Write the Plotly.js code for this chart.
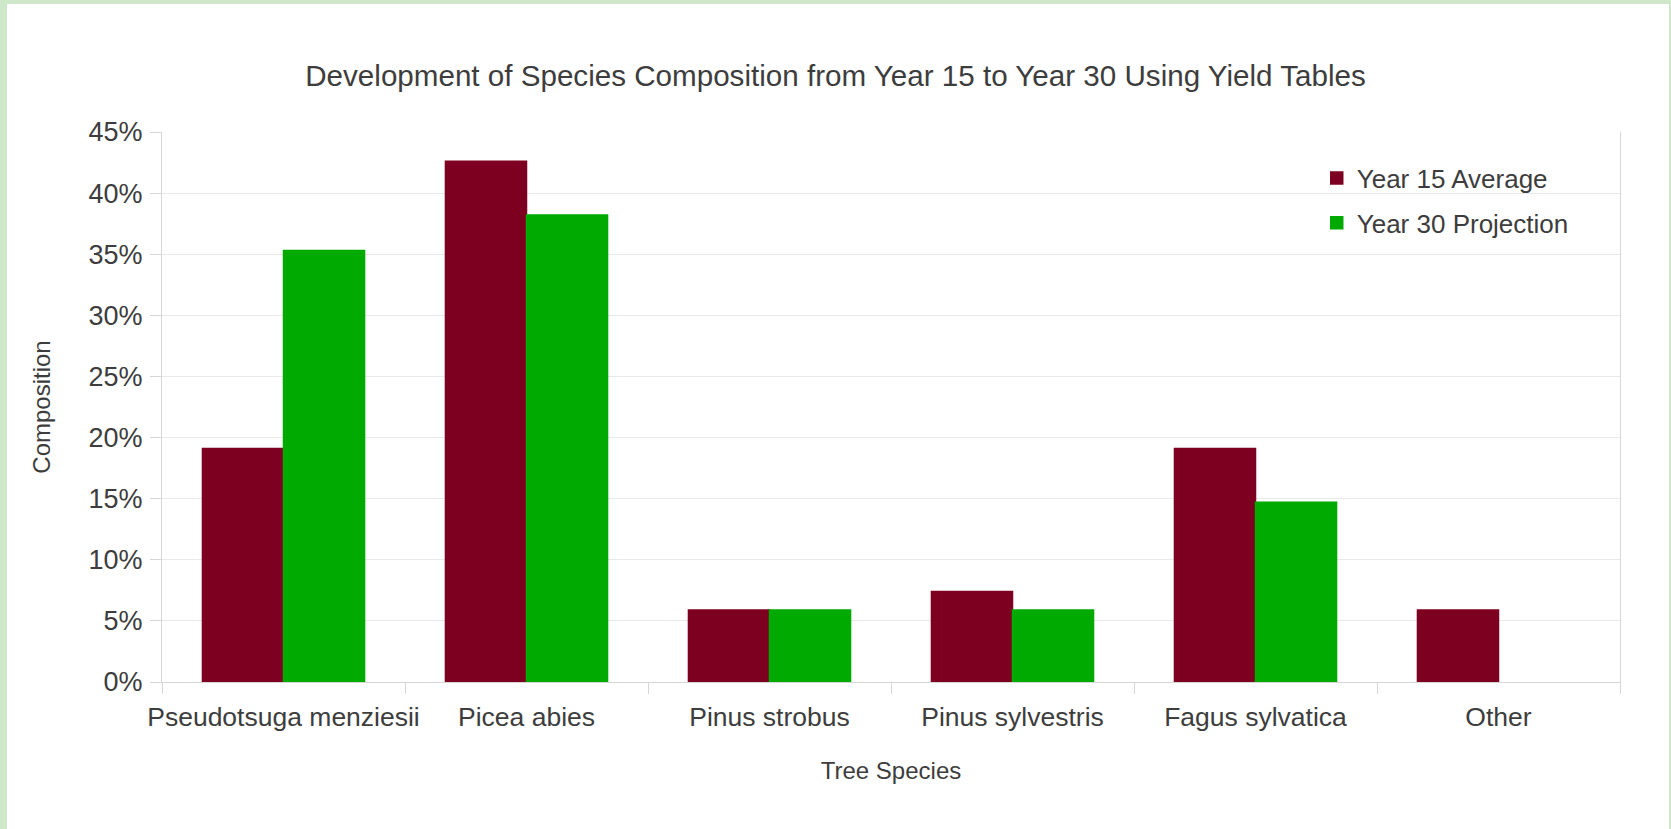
<!DOCTYPE html>
<html>
<head>
<meta charset="utf-8">
<script src="https://cdn.plot.ly/plotly-3.0.1.min.js"></script>
<style>
  html, body { margin: 0; padding: 0; background: #ffffff; }
  #chart { position: absolute; left: 0; top: 0; width: 1671px; height: 829px; }
  #frame { position: absolute; left: 0; top: 0; width: 1671px; height: 829px; box-sizing: border-box;
           border-left: 7px solid #cfe7c9; border-top: 4px solid #cfe7c9; border-right: 2px solid #cfe7c9;
           pointer-events: none; }
</style>
</head>
<body>
<div id="chart"></div>
<div id="frame"></div>
<script>
const species = ["Pseudotsuga menziesii", "Picea abies", "Pinus strobus", "Pinus sylvestris", "Fagus sylvatica", "Other"];
const year15Average = [19.1, 42.6, 5.9, 7.4, 19.1, 5.9];
const year30Projection = [35.3, 38.2, 5.9, 5.9, 14.7, 0];
const seriesNames = ["Year 15 Average", "Year 30 Projection"];
const yTickValues = [0, 5, 10, 15, 20, 25, 30, 35, 40, 45];
const yTickLabels = ["0%", "5%", "10%", "15%", "20%", "25%", "30%", "35%", "40%", "45%"];

const FONT = "Liberation Sans, Arial, sans-serif";
const TEXT = "#3d3d3d";
const GRID = "#e9e9e9";
const AXIS = "#d6d6d6";
const RED = "#7e0021";
const GREEN = "#00aa00";

function edgeWidths(values) { return values.map(v => (v > 0 ? 1.5 : 0)); }

const traces = [
  { type: "bar", name: seriesNames[0], x: species, y: year15Average, legendgroup: "a",
    marker: { color: RED, line: { color: RED, width: edgeWidths(year15Average) } }, hoverinfo: "x+y" },
  { type: "bar", name: seriesNames[1], x: species, y: year30Projection, legendgroup: "b",
    marker: { color: GREEN, line: { color: GREEN, width: edgeWidths(year30Projection) } }, hoverinfo: "x+y" }
];

const layout = {
  width: 1671, height: 829,
  paper_bgcolor: "#ffffff", plot_bgcolor: "#ffffff",
  margin: { l: 162, r: 51, t: 132, b: 147 },
  font: { family: FONT, color: TEXT, size: 26 },
  title: { text: "Development of Species Composition from Year 15 to Year 30 Using Yield Tables",
           font: { family: FONT, size: 29.6, color: TEXT }, x: 0.5, xanchor: "center",
           y: 1 - 76 / 829, yanchor: "middle" },
  barmode: "group", bargap: 0.333, bargroupgap: 0,
  showlegend: true,
  legend: { x: 0.792, xanchor: "left", y: 0.959, yanchor: "top", bgcolor: "rgba(0,0,0,0)",
            font: { family: FONT, size: 26, color: TEXT }, tracegroupgap: 8, traceorder: "grouped" },
  xaxis: { type: "category", showgrid: false, zeroline: false, showline: true, linecolor: AXIS, linewidth: 1,
           ticks: "outside", tickson: "boundaries", ticklen: 11, tickcolor: AXIS, tickwidth: 1,
           tickangle: 0, ticklabelstandoff: 11,
           tickfont: { family: FONT, size: 26.5, color: TEXT },
           title: { text: "Tree Species", font: { family: FONT, size: 24, color: TEXT }, standoff: 31 } },
  yaxis: { range: [0, 45], tickvals: yTickValues, ticktext: yTickLabels,
           showgrid: true, gridcolor: GRID, zeroline: false, showline: true, mirror: true,
           linecolor: AXIS, linewidth: 1, ticks: "outside", ticklen: 11, tickcolor: AXIS,
           ticklabelstandoff: 2,
           tickfont: { family: FONT, size: 27, color: TEXT },
           title: { text: "Composition", font: { family: FONT, size: 24, color: TEXT }, standoff: 31 } }
};

Plotly.newPlot("chart", traces, layout, { staticPlot: true, displayModeBar: false });
</script>
</body>
</html>
